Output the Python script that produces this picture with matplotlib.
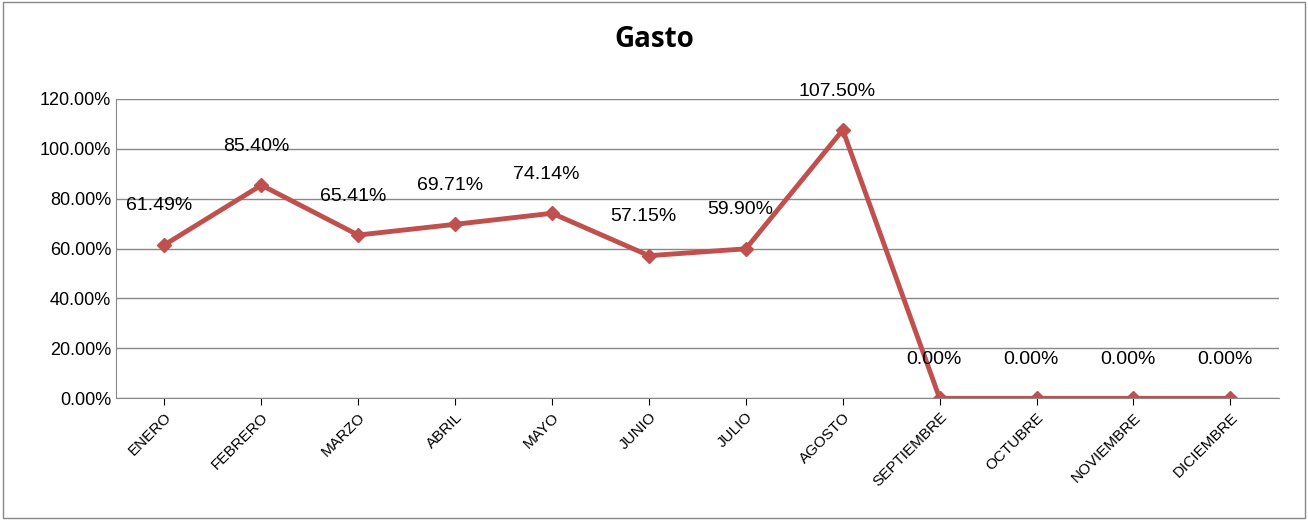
import matplotlib
matplotlib.use("Agg")
import matplotlib.pyplot as plt
from matplotlib.ticker import FuncFormatter

months = ["ENERO","FEBRERO","MARZO","ABRIL","MAYO","JUNIO","JULIO","AGOSTO","SEPTIEMBRE","OCTUBRE","NOVIEMBRE","DICIEMBRE"]
values = [61.49,85.40,65.41,69.71,74.14,57.15,59.90,107.50,0,0,0,0]
yticks = [0,20,40,60,80,100,120]

plt.rcParams['font.family'] = ['Liberation Sans','DejaVu Sans']
fig = plt.figure(figsize=(13.08,5.2), dpi=100)
ax = fig.add_axes([0.0887, 0.234, 0.889, 0.576])
x = list(range(len(months)))
ax.plot(x, values, color='#C0504D', lw=3.5, marker='D', ms=7)
for xi, v in zip(x, values):
    ax.annotate(f"{v:.2f}%", (xi, v), xytext=(-4, 28), textcoords='offset points', ha='center', va='center', fontsize=14)
ax.set_xlim(-0.5, 11.5)
ax.set_ylim(0, 120)
ax.set_yticks(yticks)
ax.yaxis.set_major_formatter(FuncFormatter(lambda v,p: f"{v:.2f}%"))
ax.set_xticks(x)
ax.set_xticklabels(months, rotation=45, ha='right', rotation_mode='anchor', fontsize=11)
ax.tick_params(axis='y', labelsize=13, length=0)
ax.tick_params(axis='x', length=5)
ax.grid(axis='y', color='#888888', lw=1)
for s in ['top','right']: ax.spines[s].set_visible(False)
ax.spines['left'].set_color('#888888'); ax.spines['bottom'].set_color('#888888')
ax.set_axisbelow(True)
fig.text(0.5, 0.91, "Gasto", ha='center', fontsize=20, fontweight='bold', family=['Open Sans','DejaVu Sans'])
fig.patches.append(plt.Rectangle((0.002,0.004),0.996,0.992, transform=fig.transFigure, fill=False, ec='#888888', lw=1))
fig.savefig("out.png")
